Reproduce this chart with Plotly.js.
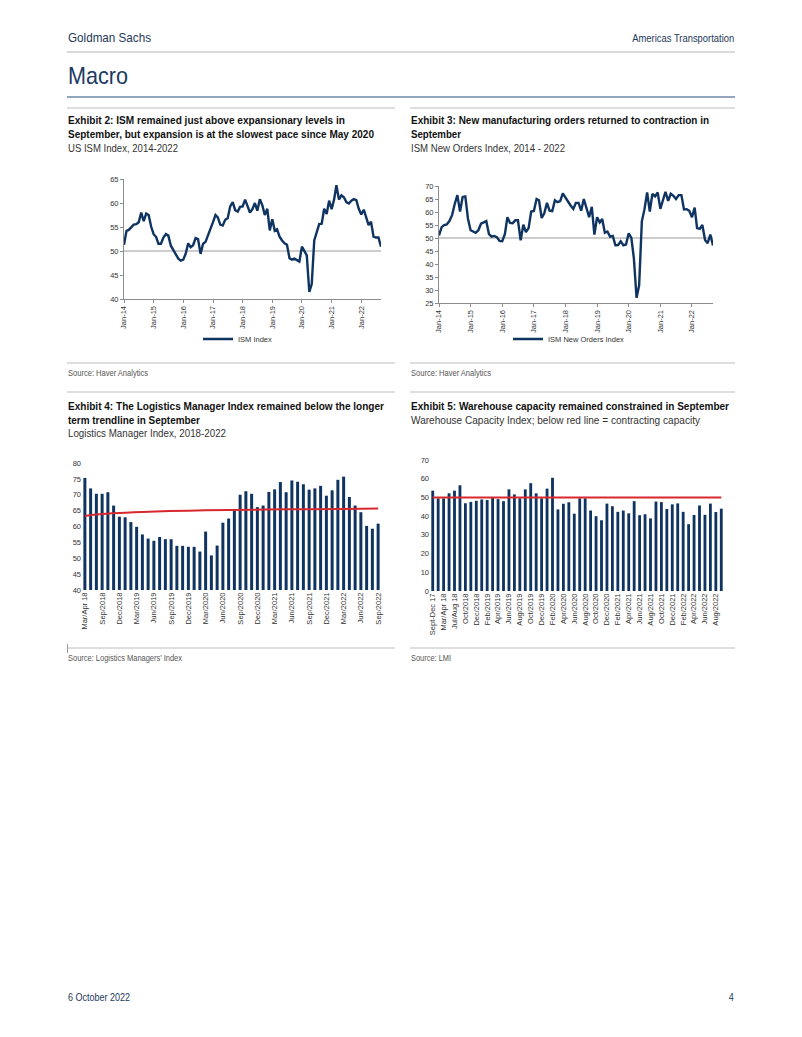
<!DOCTYPE html>
<html>
<head>
<meta charset="utf-8">
<script src="https://cdn.plot.ly/plotly-3.0.1.min.js"></script>
<style>
  html, body { margin: 0; padding: 0; background: #fff; }
  #page { width: 802px; height: 1037px; }
</style>
</head>
<body>
<div id="page"></div>
<script>
// ---------------- DATA ----------------
// Monthly ISM series, Jan-2014 .. Sep-2022
const ismIndex = [
  51.3, 54.2, 54.4, 55.0, 55.5, 55.6, 56.0, 58.0, 56.2, 57.8, 57.5, 55.1,
  53.5, 52.9, 51.5, 51.5, 52.8, 53.5, 53.2, 51.1, 50.2, 49.4, 48.4, 48.0,
  48.2, 49.5, 51.6, 50.8, 51.2, 52.7, 52.5, 49.4, 51.5, 51.9, 53.2, 54.5,
  56.0, 57.5, 57.0, 55.5, 55.3, 56.5, 56.8, 59.3, 60.2, 58.5, 58.2, 59.2,
  59.3, 60.7, 59.5, 58.0, 58.7, 60.0, 58.4, 60.8, 59.5, 57.5, 58.8, 54.3,
  56.6, 54.2, 54.5, 53.0, 52.2, 51.6, 51.3, 48.5, 48.2, 48.4, 48.1, 47.8,
  50.9, 50.1, 49.1, 41.5, 43.1, 52.2, 54.0, 55.6, 55.7, 58.8, 57.7, 60.5,
  58.7, 60.8, 63.7, 60.7, 61.6, 61.2, 60.2, 59.9, 60.5, 60.8, 60.6, 58.8,
  57.6, 58.6, 57.1, 55.4, 56.1, 53.0, 52.8, 52.8, 50.9
];
const ismNewOrders = [
  51.0, 54.2, 55.0, 55.2, 56.5, 58.8, 63.0, 66.5, 60.2, 65.8, 66.0, 57.5,
  53.0, 52.5, 52.0, 53.0, 55.5, 56.0, 56.5, 51.5, 50.5, 50.8, 50.3, 48.9,
  48.8, 51.5, 58.0, 55.8, 55.7, 56.8, 56.8, 49.1, 55.1, 52.3, 53.8, 60.2,
  60.4, 65.0, 64.5, 57.7, 59.5, 63.5, 60.5, 60.3, 64.5, 63.8, 64.2, 67.2,
  65.5, 64.0, 62.5, 61.2, 63.5, 63.5, 60.5, 65.0, 61.8, 58.0, 62.0, 51.3,
  58.0, 56.0, 57.3, 52.0, 52.5, 50.5, 50.8, 47.2, 47.3, 48.7, 47.2, 47.5,
  51.8, 50.0, 42.2, 27.0, 31.8, 56.4, 61.0, 67.5, 60.2, 67.0, 66.0, 67.5,
  61.2, 64.5, 67.8, 64.3, 67.0, 66.2, 65.0, 66.5, 66.5, 61.0, 61.1, 60.5,
  58.0, 61.7, 53.8, 53.5, 55.0, 49.2, 48.0, 51.3, 47.1
];
const ismStartMonth = "2014-01";
const ismYearTicks = ["2014-01-01","2015-01-01","2016-01-01","2017-01-01","2018-01-01",
                      "2019-01-01","2020-01-01","2021-01-01","2022-01-01"];

// Logistics Manager Index (Exhibit 4)
const lmiCats = [
  "Mar/Apr 18","May/Jun 18","Jul/Aug 18","Sep/2018","Oct/2018","Nov/2018","Dec/2018",
  "Jan/2019","Feb/2019","Mar/2019","Apr/2019","May/2019","Jun/2019","Jul/2019","Aug/2019","Sep/2019","Oct/2019","Nov/2019","Dec/2019",
  "Jan/2020","Feb/2020","Mar/2020","Apr/2020","May/2020","Jun/2020","Jul/2020","Aug/2020","Sep/2020","Oct/2020","Nov/2020","Dec/2020",
  "Jan/2021","Feb/2021","Mar/2021","Apr/2021","May/2021","Jun/2021","Jul/2021","Aug/2021","Sep/2021","Oct/2021","Nov/2021","Dec/2021",
  "Jan/2022","Feb/2022","Mar/2022","Apr/2022","May/2022","Jun/2022","Jul/2022","Aug/2022","Sep/2022"
];
const lmiValues = [
  75.3, 72.0, 70.3, 70.3, 70.8, 66.6, 63.1,
  62.9, 61.4, 59.9, 57.5, 56.2, 55.5, 56.7, 56.0, 56.0, 53.9, 53.9, 53.6,
  53.6, 52.1, 58.4, 50.9, 54.0, 61.2, 62.5, 65.5, 70.0, 71.1, 70.3, 66.1,
  66.6, 70.9, 71.7, 74.0, 70.8, 74.5, 74.1, 73.3, 71.6, 72.0, 72.8, 69.7,
  71.4, 74.7, 75.7, 69.3, 66.6, 64.5, 60.2, 59.3, 60.9
];
const lmiTickLabels = ["Mar/Apr 18","Sep/2018","Dec/2018","Mar/2019","Jun/2019","Sep/2019","Dec/2019",
  "Mar/2020","Jun/2020","Sep/2020","Dec/2020","Mar/2021","Jun/2021","Sep/2021","Dec/2021",
  "Mar/2022","Jun/2022","Sep/2022"];
// longer-term trendline, read at a few points
const lmiTrendCats = ["Mar/Apr 18","Jul/Aug 18","Nov/2018","Apr/2019","Dec/2019","Jul/2020","May/2021","Mar/2022","Sep/2022"];
const lmiTrendValues = [63.3, 63.8, 64.2, 64.6, 65.0, 65.2, 65.4, 65.55, 65.65];

// Warehouse Capacity Index (Exhibit 5)
const whCats = [
  "Sept-Dec 17","Jan/Feb 18","Mar/Apr 18","May/Jun 18","Jul/Aug 18","Sep/2018","Oct/2018","Nov/2018","Dec/2018",
  "Jan/2019","Feb/2019","Mar/2019","Apr/2019","May/2019","Jun/2019","Jul/2019","Aug/2019","Sep/2019","Oct/2019","Nov/2019","Dec/2019",
  "Jan/2020","Feb/2020","Mar/2020","Apr/2020","May/2020","Jun/2020","Jul/2020","Aug/2020","Sep/2020","Oct/2020","Nov/2020","Dec/2020",
  "Jan/2021","Feb/2021","Mar/2021","Apr/2021","May/2021","Jun/2021","Jul/2021","Aug/2021","Sep/2021","Oct/2021","Nov/2021","Dec/2021",
  "Jan/2022","Feb/2022","Mar/2022","Apr/2022","May/2022","Jun/2022","Jul/2022","Aug/2022","Sep/2022"
];
const whValues = [
  53.6, 49.5, 49.5, 52.2, 53.6, 56.5, 46.9, 47.6, 48.2,
  48.9, 48.6, 49.8, 49.1, 48.0, 54.3, 51.6, 49.5, 54.3, 57.6, 52.2, 49.5,
  54.7, 60.5, 43.6, 46.6, 47.4, 41.3, 49.5, 49.5, 43.0, 40.0, 37.8, 46.7,
  45.3, 42.3, 43.0, 41.5, 48.0, 40.5, 41.0, 38.8, 47.8, 47.5, 43.8, 46.3,
  46.8, 42.3, 35.7, 40.6, 45.7, 40.7, 46.7, 42.2, 44.0
];
const whTickLabels = ["Sept-Dec 17","Mar/Apr 18","Jul/Aug 18","Oct/2018","Dec/2018","Feb/2019","Apr/2019",
  "Jun/2019","Aug/2019","Oct/2019","Dec/2019","Feb/2020","Apr/2020","Jun/2020","Aug/2020","Oct/2020",
  "Dec/2020","Feb/2021","Apr/2021","Jun/2021","Aug/2021","Oct/2021","Dec/2021","Feb/2022","Apr/2022",
  "Jun/2022","Aug/2022"];
const whThreshold = 50;

// ---------------- LAYOUT HELPERS ----------------
const W = 802, H = 1037;
const px = x => x / W;
const py = y => 1 - y / H;

const SANS = '"Liberation Sans", Arial, sans-serif';
const NAVY = '#0f3461';
const RED = '#d7282f';

// month categories for ISM series (dates)
function monthDates(start, n) {
  const [y0, m0] = start.split('-').map(Number);
  const out = [];
  for (let i = 0; i < n; i++) {
    const y = y0 + Math.floor((m0 - 1 + i) / 12);
    const m = ((m0 - 1 + i) % 12) + 1;
    out.push(y + '-' + String(m).padStart(2, '0') + '-01');
  }
  return out;
}
const ismDates = monthDates(ismStartMonth, ismIndex.length);

// ---------------- TRACES ----------------
const traces = [
  { type: 'scatter', mode: 'lines', name: 'ISM Index', x: ismDates, y: ismIndex,
    xaxis: 'x', yaxis: 'y', line: { color: NAVY, width: 2.4 }, legend: 'legend', showlegend: true },
  { type: 'scatter', mode: 'lines', name: 'ISM New Orders Index', x: ismDates, y: ismNewOrders,
    xaxis: 'x2', yaxis: 'y2', line: { color: NAVY, width: 2.4 }, legend: 'legend2', showlegend: true },
  { type: 'bar', x: lmiCats, y: lmiValues, xaxis: 'x3', yaxis: 'y3',
    marker: { color: NAVY }, showlegend: false },
  { type: 'scatter', mode: 'lines', x: lmiTrendCats, y: lmiTrendValues, xaxis: 'x3', yaxis: 'y3',
    line: { color: RED, width: 2, shape: 'spline' }, showlegend: false },
  { type: 'bar', x: whCats, y: whValues, xaxis: 'x4', yaxis: 'y4',
    marker: { color: NAVY }, showlegend: false },
  { type: 'scatter', mode: 'lines', x: [whCats[0], whCats[whCats.length - 1]], y: [whThreshold, whThreshold],
    xaxis: 'x4', yaxis: 'y4', line: { color: RED, width: 2 }, showlegend: false }
];

// ---------------- AXES ----------------
const tickFont = { family: SANS, size: 7.5, color: '#333' };
function lineX(domain, ticks, range, anchor) {
  return { domain: domain, type: 'date', range: range, tickmode: 'array', tickvals: ticks,
    tickformat: '%b-%y', tickangle: -90, tickfont: tickFont, showgrid: false, zeroline: false,
    showline: true, linecolor: '#8c8c8c', linewidth: 1, ticks: 'outside', ticklen: 3, tickcolor: '#8c8c8c',
    anchor: anchor, fixedrange: true };
}
function lineY(domain, range, anchor) {
  return { domain: domain, range: range, dtick: 5, tickfont: tickFont, showgrid: false, zeroline: false,
    showline: true, linecolor: '#8c8c8c', linewidth: 1, ticks: 'outside', ticklen: 3, tickcolor: '#8c8c8c',
    anchor: anchor, fixedrange: true };
}
function barX(domain, cats, labels, anchor) {
  return { domain: domain, type: 'category', categoryarray: cats, range: [-0.5, cats.length - 0.5],
    tickmode: 'array', tickvals: labels, ticktext: labels, tickangle: -90, tickfont: tickFont,
    showgrid: false, zeroline: false, showline: false, ticks: '', anchor: anchor, fixedrange: true };
}
function barY(domain, range, dtick, anchor) {
  return { domain: domain, range: range, dtick: dtick, tickfont: tickFont, showgrid: false, zeroline: false,
    showline: false, ticks: '', anchor: anchor, fixedrange: true };
}

// ---------------- TEXT ----------------
// each text: content, x, y, target (condensed) width in px, options
const textWidths = [];
function txt(text, x, y, width, opts) {
  opts = opts || {};
  textWidths.push(width);
  const right = opts.xanchor === 'right';
  return { text: text, x: px(x), y: py(y), xref: 'paper', yref: 'paper', showarrow: false,
    xanchor: right ? 'right' : 'left', yanchor: 'middle', align: right ? 'right' : 'left',
    borderpad: 0,
    font: { family: SANS, size: opts.size || 11, color: opts.color || '#111',
            weight: opts.bold ? 700 : 400 } };
}
const TS = 10.8;
const annotations = [
  txt('Goldman Sachs', 67, 37, 83, { size: 13, color: '#24385a' }),
  txt('Americas Transportation', 735, 38, 102, { size: 11, color: '#24385a', xanchor: 'right' }),
  txt('Macro', 67, 76, 60, { size: 24, color: '#1c3a63' }),

  txt('Exhibit 2: ISM remained just above expansionary levels in', 67, 120.5, 277, { size: TS, bold: true }),
  txt('September, but expansion is at the slowest pace since May 2020', 67, 134.5, 306, { size: TS, bold: true }),
  txt('US ISM Index, 2014-2022', 67, 148.5, 110, { size: TS, color: '#333' }),

  txt('Exhibit 3: New manufacturing orders returned to contraction in', 410, 120.5, 298, { size: TS, bold: true }),
  txt('September', 410, 134.5, 50, { size: TS, bold: true }),
  txt('ISM New Orders Index, 2014 - 2022', 410, 148.5, 154, { size: TS, color: '#333' }),

  txt('Source: Haver Analytics', 67, 373, 80, { size: 9, color: '#555' }),
  txt('Source: Haver Analytics', 410, 373, 80, { size: 9, color: '#555' }),

  txt('Exhibit 4: The Logistics Manager Index remained below the longer', 67, 405.5, 316, { size: TS, bold: true }),
  txt('term trendline in September', 67, 419.5, 132, { size: TS, bold: true }),
  txt('Logistics Manager Index, 2018-2022', 67, 433, 158, { size: TS, color: '#333' }),

  txt('Exhibit 5: Warehouse capacity remained constrained in September', 410, 405.5, 318, { size: TS, bold: true }),
  txt('Warehouse Capacity Index; below red line = contracting capacity', 410, 419.5, 289, { size: TS, color: '#333' }),

  txt('Source: Logistics Managers\u2019 Index', 67, 658, 114, { size: 9, color: '#555' }),
  txt('Source: LMI', 410, 658, 40, { size: 9, color: '#555' }),

  txt('6 October 2022', 67, 997, 62, { size: 10.5, color: '#24385a' }),
  txt('4', 735, 997, 5, { size: 10.5, color: '#24385a', xanchor: 'right' })
];

// ---------------- SEPARATORS ----------------
function hline(x0, x1, y, color, width) {
  return { type: 'line', xref: 'paper', yref: 'paper', x0: px(x0), x1: px(x1), y0: py(y), y1: py(y),
    line: { color: color, width: width } };
}
const shapes = [
  hline(67, 735, 52, '#b5b5b5', 1),
  hline(67, 735, 97, '#6f89a8', 1.3),
  hline(67, 395, 108, '#bdbdbd', 1), hline(410, 735, 108, '#bdbdbd', 1),
  hline(67, 395, 363, '#bdbdbd', 1), hline(410, 735, 363, '#bdbdbd', 1),
  hline(67, 395, 392, '#bdbdbd', 1), hline(410, 735, 392, '#bdbdbd', 1),
  hline(67, 395, 648, '#bdbdbd', 1), hline(410, 735, 648, '#bdbdbd', 1),
  { type: 'line', xref: 'paper', yref: 'paper', x0: px(67.5), x1: px(67.5), y0: py(644), y1: py(653),
    line: { color: '#9a9a9a', width: 1 } },
  // 50 reference lines on the ISM charts
  { type: 'line', xref: 'x domain', yref: 'y', x0: 0, x1: 1, y0: 50, y1: 50, line: { color: '#9a9a9a', width: 1 }, layer: 'below' },
  { type: 'line', xref: 'x2 domain', yref: 'y2', x0: 0, x1: 1, y0: 50, y1: 50, line: { color: '#9a9a9a', width: 1 }, layer: 'below' }
];

const legendFont = { family: SANS, size: 7.5, color: '#333' };
const layout = {
  width: W, height: H, margin: { l: 0, r: 0, t: 0, b: 0 },
  paper_bgcolor: '#fff', plot_bgcolor: 'rgba(0,0,0,0)',
  showlegend: true,
  bargap: 0.48,
  xaxis: lineX([px(124), px(381)], ismYearTicks, ['2014-01-01', '2022-09-01'], 'y'),
  yaxis: lineY([py(299), py(179)], [40, 65], 'x'),
  xaxis2: lineX([px(439), px(713)], ismYearTicks, ['2014-01-01', '2022-09-01'], 'y2'),
  yaxis2: lineY([py(303), py(186)], [25, 70], 'x2'),
  xaxis3: barX([px(82), px(381)], lmiCats, lmiTickLabels, 'y3'),
  yaxis3: barY([py(590), py(463)], [40, 80], 5, 'x3'),
  xaxis4: barX([px(430), px(724)], whCats, whTickLabels, 'y4'),
  yaxis4: barY([py(591), py(460)], [0, 70], 10, 'x4'),
  legend: { x: px(198), y: py(339), xanchor: 'left', yanchor: 'middle', font: legendFont,
    bgcolor: 'rgba(0,0,0,0)', itemwidth: 30, tracegroupgap: 0 },
  legend2: { x: px(508), y: py(339), xanchor: 'left', yanchor: 'middle', font: legendFont,
    bgcolor: 'rgba(0,0,0,0)', itemwidth: 30, tracegroupgap: 0 },
  annotations: annotations,
  shapes: shapes
};

Plotly.newPlot('page', traces, layout, { staticPlot: true, displayModeBar: false }).then(function (gd) {
  // condense page texts to the narrow widths of the original typeface
  gd.querySelectorAll('g.annotation').forEach(function (g) {
    const idx = +g.getAttribute('data-index');
    const t = g.querySelector('text.annotation-text');
    const w = textWidths[idx];
    if (!t || !w) return;
    const natural = t.getComputedTextLength();
    if (natural <= w) return;
    t.setAttribute('textLength', w);
    t.setAttribute('lengthAdjust', 'spacingAndGlyphs');
    const shrink = natural - w;
    const right = annotations[idx].xanchor === 'right';
    g.querySelectorAll('rect').forEach(function (r) {
      const rw = parseFloat(r.getAttribute('width')) || 0;
      if (rw > shrink) {
        r.setAttribute('width', rw - shrink);
        if (right) r.setAttribute('x', (parseFloat(r.getAttribute('x')) || 0) + shrink);
      }
    });
  });
});
</script>
</body>
</html>
